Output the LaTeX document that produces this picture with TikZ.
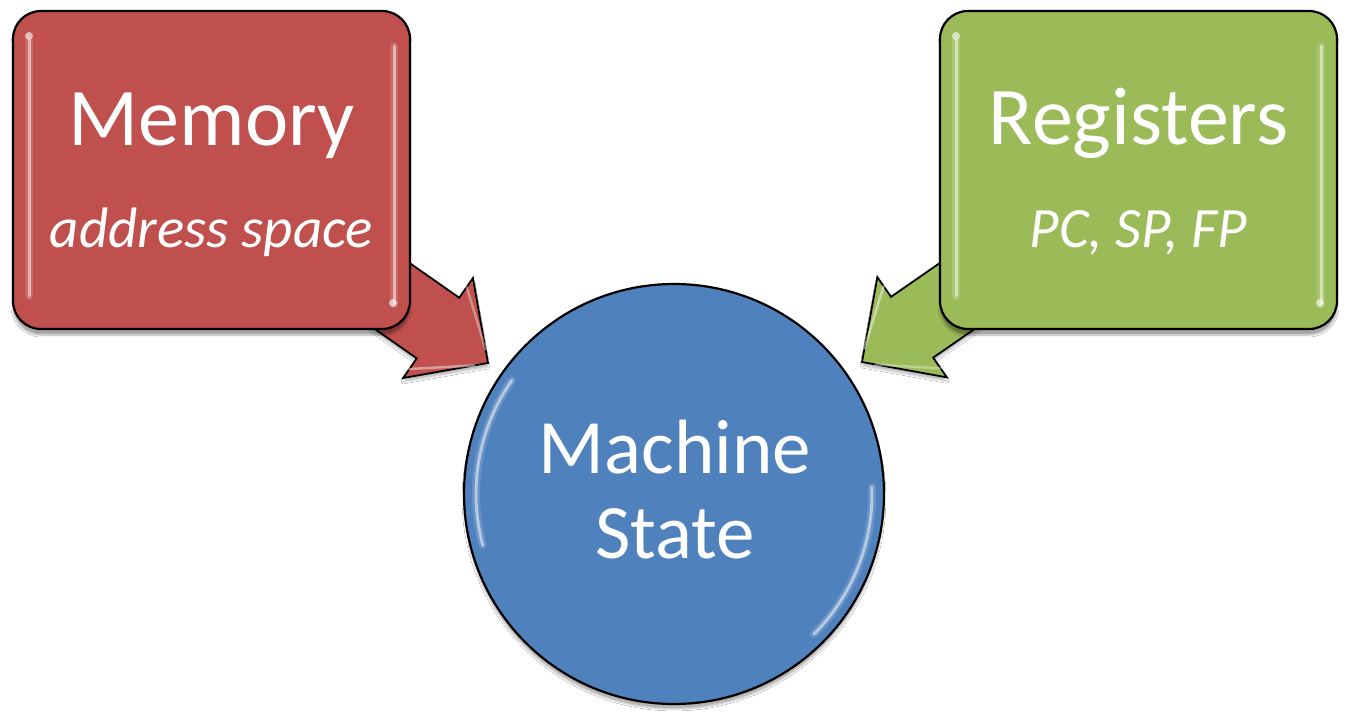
\documentclass[tikz,border=0pt]{standalone}
\usepackage{fontspec}
\setmainfont{Carlito}
\usetikzlibrary{calc,shadows.blur}
\definecolor{memred}{HTML}{C0504D}
\definecolor{reggreen}{HTML}{9BBB59}
\definecolor{msblue}{HTML}{4F81BD}
\newcommand\fatarrow[3]{%
  \coordinate (hb) at ($(#2)!61pt!(#1)$);
  \draw[arrowline, fill=#3]
    ($(#1)!37pt!90:(#2)$) -- ($(hb)!37pt!90:(#2)$) -- ($(hb)!61pt!90:(#2)$)
    -- (#2) -- ($(hb)!61pt!-90:(#2)$) -- ($(hb)!37pt!-90:(#2)$)
    -- ($(#1)!37pt!-90:(#2)$) -- cycle;
  % bevel highlights on the head
  \draw[gloss, line width=2.5pt, opacity=0.35]
    ($(hb)!50pt!90:(#2)$) -- ($(#2)!14pt!($(hb)!61pt!90:(#2)$)$);
  \draw[gloss, line width=2.5pt, opacity=0.45]
    ($(hb)!50pt!-90:(#2)$) -- ($(#2)!14pt!($(hb)!61pt!-90:(#2)$)$);
}
\begin{document}
\begin{tikzpicture}[x=1pt,y=-1pt,
  arrowline/.style={draw=black, line width=1.8pt, line join=miter,
    blur shadow={shadow xshift=0pt, shadow yshift=-4pt, shadow opacity=25}},
  box/.style={draw=black, line width=2.2pt, rounded corners=28pt,
    minimum width=397pt, minimum height=318pt, inner sep=0pt,
    blur shadow={shadow xshift=0pt, shadow yshift=-6pt, shadow opacity=35}},
  disc/.style={circle, draw=black, line width=2.2pt, fill=msblue,
    minimum size=420pt, inner sep=0pt,
    blur shadow={shadow xshift=0pt, shadow yshift=-5pt, shadow opacity=30}},
  bigtxt/.style={text=white, font=\fontsize{82}{90}\selectfont, anchor=base, inner sep=0pt},
  subtxt/.style={text=white, font=\itshape\fontsize{57}{62}\selectfont, anchor=base, inner sep=0pt},
  gloss/.style={draw=white, line cap=round, line width=3pt, opacity=0.5},
  glow/.style={draw=white, line cap=round, line width=8pt, opacity=0.15},
  spot/.style={fill=white, opacity=0.6},
]
\useasboundingbox (0,0) rectangle (1350,718);
\fill[white] (0,0) rectangle (1350,718);

% arrow geometry
\coordinate (memstart) at (315,242);
\coordinate (memtip) at (488,363);
\coordinate (regstart) at (1035,242);
\coordinate (regtip) at (862,362);

\fatarrow{memstart}{memtip}{memred}
\fatarrow{regstart}{regtip}{reggreen}

% boxes
\node[box, fill=memred] (mem) at (211.5,170) {};
\node[box, fill=reggreen] (reg) at (1138.5,170) {};
\node[disc] (ms) at (674,494) {};

% glossy streaks
\foreach \xx/\ya/\yb in {29/40/296, 394/46/304, 956/40/296, 1321/46/304}{
  \draw[glow] (\xx,\ya) -- (\xx,\yb);
  \draw[gloss] (\xx,\ya) -- (\xx,\yb);
}
\foreach \xx/\yy in {29/36, 393/303, 956/36, 1320/303}{
  \fill[spot] (\xx,\yy) circle[radius=4pt];
}
\draw[glow] (ms.center) ++(145:198pt) arc[start angle=145, end angle=195, radius=198pt];
\draw[gloss] (ms.center) ++(145:198pt) arc[start angle=145, end angle=195, radius=198pt];
\draw[glow] (ms.center) ++(-45:198pt) arc[start angle=-45, end angle=2, radius=198pt];
\draw[gloss] (ms.center) ++(-45:198pt) arc[start angle=-45, end angle=2, radius=198pt];

% texts
\node[bigtxt] (memt) at (211.5,145) {Memory};
\node[subtxt] (mems) at (211.5,247) {address space};
\node[bigtxt] (regt) at (1138.5,144) {Registers};
\node[subtxt] (regs) at (1138.5,247) {PC, SP, FP};
\node[bigtxt, font=\fontsize{77}{85}\selectfont] (mst1) at (675,473) {Machine};
\node[bigtxt, font=\fontsize{77}{85}\selectfont] (mst2) at (675,558) {State};
\end{tikzpicture}
\end{document}
